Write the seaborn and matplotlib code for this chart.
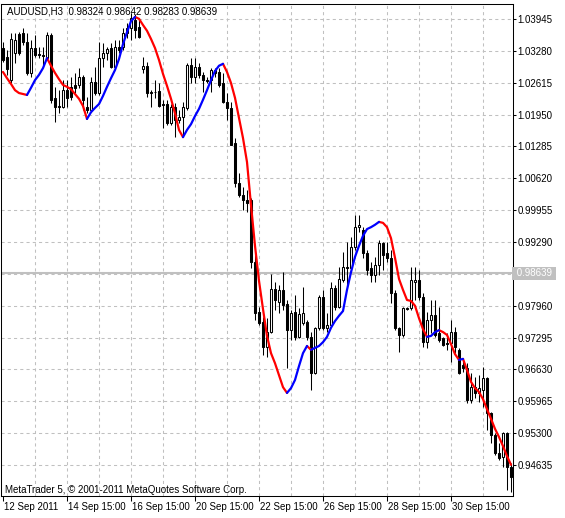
import numpy as np
import pandas as pd
import matplotlib
matplotlib.use("Agg")
import matplotlib.pyplot as plt
import matplotlib.transforms as mtransforms
import seaborn as sns

# ============================================================================
# DATA  (AUDUSD H3, 128 bars)
# ============================================================================

opens = [
    1.0334, 1.0315, 1.0267, 1.0324, 1.0363, 1.0365, 1.0347, 1.0282, 1.0334, 1.0322,
    1.0319, 1.0313, 1.0361, 1.0230, 1.0213, 1.0211, 1.0246, 1.0253, 1.0257, 1.0257,
    1.0274, 1.0211, 1.0205, 1.0263, 1.0240, 1.0313, 1.0324, 1.0334, 1.0294, 1.0336,
    1.0336, 1.0365, 1.0376, 1.0393, 1.0378, 1.0290, 1.0297, 1.0242, 1.0242, 1.0244,
    1.0217, 1.0217, 1.0177, 1.0211, 1.0184, 1.0190, 1.0209, 1.0299, 1.0274, 1.0294,
    1.0278, 1.0267, 1.0267, 1.0288, 1.0284, 1.0261, 1.0221, 1.0209, 1.0136, 1.0052,
    1.0027, 1.0017, 1.0017, 0.9887, 0.9783, 0.9762, 0.9710, 0.9741, 0.9831, 0.9804,
    0.9829, 0.9800, 0.9745, 0.9783, 0.9731, 0.9760, 0.9762, 0.9731, 0.9656, 0.9750,
    0.9814, 0.9750, 0.9756, 0.9833, 0.9793, 0.9850, 0.9877, 0.9875, 0.9919, 0.9960,
    0.9954, 0.9906, 0.9875, 0.9860, 0.9881, 0.9927, 0.9906, 0.9896, 0.9823, 0.9750,
    0.9735, 0.9791, 0.9791, 0.9846, 0.9850, 0.9814, 0.9720, 0.9766, 0.9777, 0.9739,
    0.9729, 0.9718, 0.9718, 0.9741, 0.9704, 0.9672, 0.9666, 0.9599, 0.9626, 0.9614,
    0.9620, 0.9645, 0.9572, 0.9526, 0.9489, 0.9480, 0.9530, 0.9459,
]

highs = [
    1.0347, 1.0330, 1.0365, 1.0365, 1.0367, 1.0376, 1.0365, 1.0351, 1.0361, 1.0336,
    1.0336, 1.0367, 1.0365, 1.0253, 1.0246, 1.0267, 1.0267, 1.0274, 1.0282, 1.0292,
    1.0278, 1.0232, 1.0274, 1.0294, 1.0347, 1.0344, 1.0336, 1.0344, 1.0351, 1.0351,
    1.0376, 1.0386, 1.0407, 1.0405, 1.0397, 1.0315, 1.0305, 1.0246, 1.0267, 1.0261,
    1.0225, 1.0225, 1.0217, 1.0219, 1.0205, 1.0221, 1.0303, 1.0313, 1.0313, 1.0303,
    1.0284, 1.0274, 1.0292, 1.0292, 1.0292, 1.0282, 1.0240, 1.0221, 1.0146, 1.0073,
    1.0044, 1.0038, 1.0021, 0.9902, 0.9793, 0.9772, 0.9770, 0.9862, 0.9846, 0.9839,
    0.9866, 0.9808, 0.9787, 0.9818, 0.9791, 0.9835, 0.9766, 0.9741, 0.9752, 0.9818,
    0.9829, 0.9781, 0.9846, 0.9839, 0.9877, 0.9908, 0.9929, 0.9940, 0.9985, 0.9985,
    0.9960, 0.9912, 0.9887, 0.9898, 0.9933, 0.9929, 0.9929, 0.9912, 0.9829, 0.9752,
    0.9793, 0.9793, 0.9877, 0.9877, 0.9871, 0.9823, 0.9783, 0.9808, 0.9808, 0.9793,
    0.9731, 0.9739, 0.9766, 0.9752, 0.9708, 0.9687, 0.9676, 0.9656, 0.9647, 0.9651,
    0.9668, 0.9647, 0.9574, 0.9530, 0.9509, 0.9532, 0.9532, 0.9468,
]

lows = [
    1.0305, 1.0278, 1.0261, 1.0303, 1.0319, 1.0340, 1.0278, 1.0274, 1.0315, 1.0313,
    1.0299, 1.0309, 1.0219, 1.0180, 1.0198, 1.0209, 1.0211, 1.0225, 1.0240, 1.0251,
    1.0205, 1.0198, 1.0200, 1.0236, 1.0236, 1.0294, 1.0309, 1.0292, 1.0292, 1.0324,
    1.0330, 1.0355, 1.0351, 1.0355, 1.0355, 1.0282, 1.0232, 1.0211, 1.0230, 1.0211,
    1.0167, 1.0173, 1.0173, 1.0148, 1.0177, 1.0148, 1.0205, 1.0261, 1.0261, 1.0271,
    1.0242, 1.0261, 1.0242, 1.0274, 1.0253, 1.0219, 1.0184, 1.0132, 1.0044, 1.0023,
    0.9996, 0.9992, 0.9875, 0.9766, 0.9756, 0.9693, 0.9689, 0.9739, 0.9787, 0.9781,
    0.9787, 0.9666, 0.9724, 0.9724, 0.9729, 0.9756, 0.9724, 0.9620, 0.9654, 0.9745,
    0.9745, 0.9741, 0.9752, 0.9787, 0.9791, 0.9846, 0.9835, 0.9866, 0.9912, 0.9950,
    0.9896, 0.9860, 0.9846, 0.9846, 0.9860, 0.9871, 0.9887, 0.9802, 0.9745, 0.9699,
    0.9731, 0.9787, 0.9787, 0.9808, 0.9808, 0.9710, 0.9708, 0.9739, 0.9731, 0.9720,
    0.9712, 0.9704, 0.9679, 0.9697, 0.9654, 0.9658, 0.9593, 0.9593, 0.9603, 0.9595,
    0.9585, 0.9537, 0.9509, 0.9484, 0.9474, 0.9459, 0.9411, 0.9407,
]

closes = [
    1.0309, 1.0290, 1.0353, 1.0351, 1.0324, 1.0347, 1.0282, 1.0334, 1.0319, 1.0319,
    1.0317, 1.0361, 1.0225, 1.0211, 1.0211, 1.0246, 1.0230, 1.0232, 1.0251, 1.0274,
    1.0225, 1.0205, 1.0263, 1.0240, 1.0313, 1.0324, 1.0332, 1.0294, 1.0336, 1.0330,
    1.0365, 1.0376, 1.0397, 1.0372, 1.0357, 1.0297, 1.0240, 1.0240, 1.0243, 1.0213,
    1.0215, 1.0177, 1.0211, 1.0184, 1.0190, 1.0211, 1.0299, 1.0274, 1.0294, 1.0278,
    1.0267, 1.0266, 1.0288, 1.0282, 1.0257, 1.0221, 1.0209, 1.0132, 1.0052, 1.0027,
    1.0017, 1.0010, 0.9887, 0.9781, 0.9760, 0.9710, 0.9741, 0.9831, 0.9808, 0.9829,
    0.9798, 0.9745, 0.9781, 0.9731, 0.9779, 0.9781, 0.9731, 0.9656, 0.9750, 0.9814,
    0.9750, 0.9756, 0.9833, 0.9793, 0.9852, 0.9877, 0.9875, 0.9919, 0.9960, 0.9965,
    0.9906, 0.9871, 0.9860, 0.9881, 0.9927, 0.9902, 0.9896, 0.9823, 0.9750, 0.9735,
    0.9791, 0.9790, 0.9850, 0.9850, 0.9814, 0.9720, 0.9766, 0.9777, 0.9735, 0.9724,
    0.9714, 0.9717, 0.9741, 0.9710, 0.9656, 0.9666, 0.9599, 0.9626, 0.9614, 0.9624,
    0.9645, 0.9572, 0.9526, 0.9489, 0.9478, 0.9530, 0.9459, 0.9438,
]

# smoothed average drawn over the candles (blue = rising, red = falling)
ma_line = [
    1.0284, 1.0271, 1.0259, 1.0246, 1.0240, 1.0238, 1.0236, 1.0251, 1.0267, 1.0278,
    1.0292, 1.0313, 1.0297, 1.0282, 1.0269, 1.0257, 1.0253, 1.0248, 1.0238, 1.0228,
    1.0213, 1.0186, 1.0200, 1.0209, 1.0217, 1.0234, 1.0253, 1.0271, 1.0288, 1.0311,
    1.0342, 1.0367, 1.0390, 1.0399, 1.0395, 1.0382, 1.0370, 1.0353, 1.0334, 1.0309,
    1.0280, 1.0255, 1.0228, 1.0198, 1.0163, 1.0148, 1.0163, 1.0175, 1.0192, 1.0207,
    1.0226, 1.0246, 1.0267, 1.0286, 1.0297, 1.0301, 1.0284, 1.0261, 1.0230, 1.0188,
    1.0146, 1.0096, 1.0006, 0.9921, 0.9848, 0.9789, 0.9733, 0.9697, 0.9676, 0.9651,
    0.9626, 0.9614, 0.9624, 0.9641, 0.9670, 0.9697, 0.9712, 0.9704, 0.9708, 0.9712,
    0.9720, 0.9731, 0.9750, 0.9764, 0.9775, 0.9785, 0.9829, 0.9866, 0.9898, 0.9921,
    0.9942, 0.9956, 0.9960, 0.9965, 0.9971, 0.9969, 0.9960, 0.9937, 0.9896, 0.9852,
    0.9829, 0.9808, 0.9806, 0.9796, 0.9770, 0.9747, 0.9731, 0.9733, 0.9741, 0.9745,
    0.9741, 0.9735, 0.9716, 0.9695, 0.9683, 0.9685, 0.9662, 0.9637, 0.9624, 0.9616,
    0.9601, 0.9580, 0.9560, 0.9539, 0.9522, 0.9503, 0.9482, 0.9464,
]

x_label_bars = [0, 16, 32, 48, 64, 80, 96, 112]
x_labels = ["12 Sep 2011", "14 Sep 15:00", "16 Sep 15:00", "20 Sep 15:00",
            "22 Sep 15:00", "26 Sep 15:00", "28 Sep 15:00", "30 Sep 15:00"]

y_ticks = [1.03945, 1.03280, 1.02615, 1.01950, 1.01285, 1.00620, 0.99955,
           0.99290, 0.98625, 0.97960, 0.97295, 0.96630, 0.95965, 0.95300, 0.94635]

last_price = 0.98639
header = "AUDUSD,H3  0.98324 0.98642 0.98283 0.98639"
footer = "MetaTrader 5, \u00a9 2001-2011 MetaQuotes Software Corp."

# ============================================================================
# PREPARE
# ============================================================================

bars = pd.DataFrame({
    "bar": np.arange(len(closes)),
    "open": opens,
    "high": highs,
    "low": lows,
    "close": closes,
})
bull = bars["close"] >= bars["open"]

# split the average into runs of same direction
ma = np.array(ma_line)
rising = np.diff(ma) > 0
rows = []
run = 0
for i, r in enumerate(rising):
    if i == 0 or r != rising[i - 1]:
        run += 1
        rows.append((i, ma[i], run, "up" if r else "down"))
    rows.append((i + 1, ma[i + 1], run, "up" if r else "down"))
ma_df = pd.DataFrame(rows, columns=["bar", "price", "run", "dir"])

# ============================================================================
# PLOT
# ============================================================================

sns.set_style("white")
plt.rcParams["font.family"] = ["Liberation Sans", "DejaVu Sans"]
FS = 7

W, H = 565, 518
fig = plt.figure(figsize=(W / 100, H / 100), dpi=100)
ax = fig.add_axes([1 / W, 22 / H, 512 / W, 492 / H])

grid_kw = dict(color="#C0C0C0", lw=0.75, linestyle=(0, (3, 3)), zorder=0)
for gx in range(8, 128, 8):
    ax.axvline(gx, **grid_kw)
for gy in y_ticks:
    ax.axhline(gy, **grid_kw)

ax.axhline(last_price, color="#C0C0C0", lw=1.5, zorder=1)

# wicks
ax.vlines(bars["bar"], bars["low"], bars["high"], color="black", lw=0.75, zorder=2)
# bodies
ax.bar(
    bars["bar"],
    bars["close"] - bars["open"],
    bottom=bars["open"],
    width=0.5,
    color=np.where(bull, "white", "black"),
    edgecolor="black",
    linewidth=0.75,
    zorder=3,
)

sns.lineplot(
    data=ma_df,
    x="bar",
    y="price",
    units="run",
    estimator=None,
    hue="dir",
    palette={"up": "#0000FF", "down": "#FF0000"},
    sort=False,
    lw=1.6,
    legend=False,
    ax=ax,
    zorder=4,
)

ax.set_xlim(-0.5, 127.5)
ax.set_ylim(0.93988, 1.04259)
ax.set_xlabel("")
ax.set_ylabel("")

for s in ax.spines.values():
    s.set_visible(True)
    s.set_color("black")
    s.set_linewidth(0.75)

# y axis on the right
ax.yaxis.tick_right()
ax.set_yticks(y_ticks)
ax.set_yticklabels(["" if abs(v - 0.98625) < 1e-6 else "%.5f" % v for v in y_ticks],
                   fontsize=FS)
ax.tick_params(axis="y", which="both", right=True, left=False, direction="out",
               length=2.2, width=0.75, pad=1, colors="black")

# x axis labels start at the tick
ax.set_xticks(x_label_bars)
ax.set_xticklabels(x_labels, fontsize=FS)
ax.tick_params(axis="x", which="both", bottom=True, top=False, direction="out",
               length=3.5, width=0.75, pad=0.5, colors="black")
shift = mtransforms.ScaledTranslation(1 / 100, 0, fig.dpi_scale_trans)
for lbl in ax.get_xticklabels():
    lbl.set_horizontalalignment("left")
    lbl.set_transform(lbl.get_transform() + shift)

# current price tag
tag_tr = mtransforms.blended_transform_factory(ax.transAxes, ax.transData)
ax.text(1.0, last_price, " 0.98639 ", transform=tag_tr + mtransforms.ScaledTranslation(1 / 100, 0, fig.dpi_scale_trans),
        ha="left", va="center", fontsize=FS, color="white",
        bbox=dict(facecolor="#C0C0C0", edgecolor="none", pad=1.2))

fig.text(7 / W, 1 - 12 / H, header, fontsize=FS, va="center", ha="left", color="black")
fig.text(5 / W, 1 - 490 / H, footer, fontsize=FS, va="center", ha="left", color="black")

fig.savefig("out.png", dpi=100)
